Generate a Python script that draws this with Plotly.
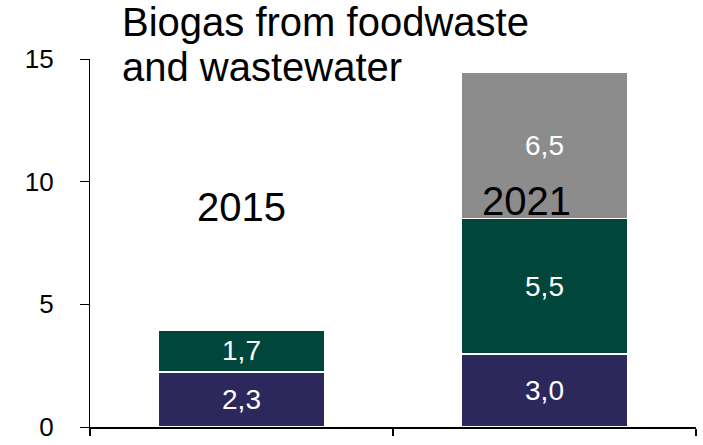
import plotly.graph_objects as go

categories = ["2015", "2021"]
series_names = ["Purple", "Green", "Gray"]
purple_vals = [2.25, 2.97]
green_vals = [1.7, 5.53]
gray_vals = [None, 5.95]
purple_labels = ["2,3", "3,0"]
green_labels = ["1,7", "5,5"]
gray_labels = ["", "6,5"]
year_labels = ["2015", "2021"]
year_label_y = [8.96, 9.2]
title_lines = ["Biogas from foodwaste", "and wastewater"]
y_ticks = [0, 5, 10, 15]

colors = ["#2D285C", "#00463A", "#8C8C8C"]

fig = go.Figure()
for name, vals, labels, col in zip(series_names,
                                   [purple_vals, green_vals, gray_vals],
                                   [purple_labels, green_labels, gray_labels],
                                   colors):
    fig.add_trace(go.Bar(
        x=categories, y=vals, name=name, text=labels,
        textposition="inside", insidetextanchor="middle", textangle=0,
        texttemplate="%{text}",
        textfont=dict(family="Liberation Sans", size=28, color="white"),
        marker=dict(color=col, line=dict(color="white", width=1.5)),
        hoverinfo="skip",
    ))

# category axis: annotation x given as category index
for idx, (lab, yy, dx) in enumerate(zip(year_labels, year_label_y, [0, -18])):
    fig.add_annotation(x=idx, y=yy, xref="x", yref="y", text=lab, showarrow=False,
                       xshift=dx,
                       font=dict(family="Liberation Sans", size=40, color="black"))

for i, line in enumerate(title_lines):
    fig.add_annotation(x=(120 - 90) / 606, y=1 + (36 - 23 + 24 - 45 * i) / 368,
                       xref="paper", yref="paper", xanchor="left", yanchor="middle",
                       text=line, showarrow=False,
                       font=dict(family="Liberation Sans", size=40, color="black"))

fig.update_layout(
    barmode="stack", bargap=0.452, showlegend=False,
    width=703, height=445,
    margin=dict(l=90, r=7, t=59, b=18, autoexpand=False),
    plot_bgcolor="white", paper_bgcolor="white",
)
fig.update_xaxes(type="category", range=[-0.5, 1.5], showticklabels=False, showline=True,
                 linecolor="black", linewidth=2, ticks="outside", ticklen=7,
                 tickcolor="black", tickwidth=1.5, tickson="boundaries",
                 showgrid=False, zeroline=False, automargin=False)
fig.update_yaxes(range=[0, 15], tickvals=y_ticks, showline=True, linecolor="black",
                 linewidth=1.2, ticks="outside", ticklen=9, tickcolor="black", tickwidth=1.2,
                 showgrid=False, zeroline=False, ticklabelstandoff=21, automargin=False,
                 tickfont=dict(family="Liberation Sans", size=26, color="black"))

fig.write_html("out.html", config={"displayModeBar": False},
               post_script="document.body.style.margin='0px';")
